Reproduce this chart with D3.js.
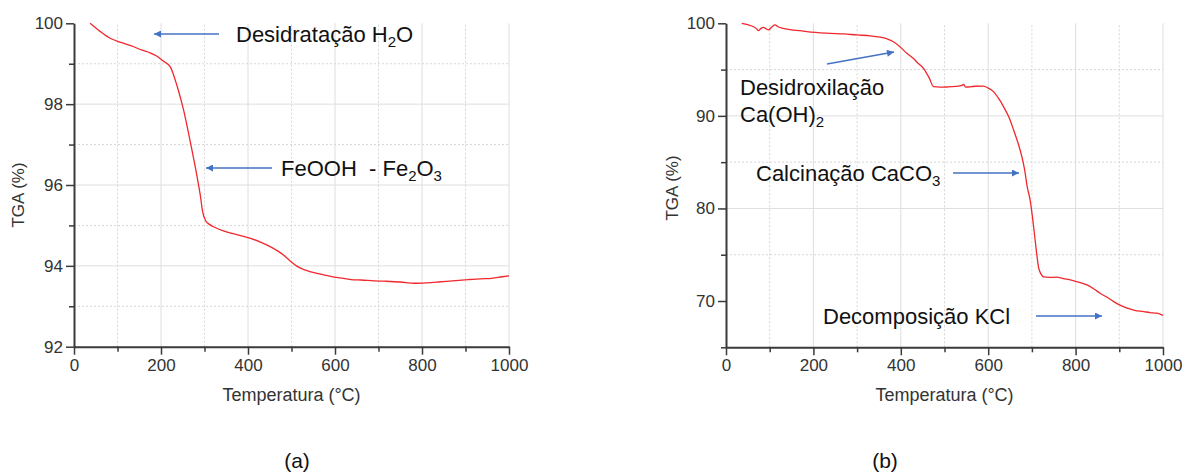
<!DOCTYPE html>
<html>
<head>
<meta charset="utf-8">
<script src="https://cdn.jsdelivr.net/npm/d3@7"></script>
<style>
  body { margin: 0; background: #fff; }
  text { font-family: "Liberation Sans", Arial, sans-serif; }
</style>
</head>
<body>
<script>
const width = 1185;
const height = 473;

// ---- data ----
const xMajor = [0, 200, 400, 600, 800, 1000];
const xMinor = [100, 300, 500, 700, 900];

// (a) FeOOH sample
const tempA = [37, 60, 83, 110, 137, 155, 175, 190, 206, 221, 237, 252, 268, 283, 291, 295, 302, 312, 322, 345, 368, 390, 406, 430, 452, 468, 485, 499, 514, 530, 545, 570, 598, 620, 637, 660, 690, 714, 750, 783, 810, 837, 870, 906, 935, 960, 985, 1000];
const tgaA = [100, 99.8, 99.63, 99.52, 99.42, 99.34, 99.27, 99.19, 99.06, 98.93, 98.45, 97.85, 97.03, 96.2, 95.7, 95.38, 95.13, 95.02, 94.96, 94.86, 94.79, 94.73, 94.68, 94.58, 94.47, 94.37, 94.24, 94.1, 93.98, 93.9, 93.85, 93.79, 93.72, 93.69, 93.66, 93.65, 93.63, 93.62, 93.6, 93.57, 93.58, 93.6, 93.63, 93.66, 93.68, 93.69, 93.73, 93.75];
const yMajorA = [92, 94, 96, 98, 100];
const yMinorA = [93, 95, 97, 99];

// (b) Ca(OH)2 / CaCO3 sample
const tempB = [36, 50, 63, 70, 74, 80, 86, 92, 97, 105, 112, 120, 131, 150, 170, 185, 210, 238, 270, 299, 330, 353, 370, 383, 398, 414, 429, 437, 452, 465, 475, 490, 505, 525, 540, 544, 548, 552, 570, 589, 600, 612, 625, 635, 647, 658, 668, 677, 684, 689, 696, 704, 710, 715, 721, 727, 740, 757, 770, 788, 806, 826, 842, 856, 872, 887, 902, 918, 935, 956, 970, 986, 1000];
const tgaB = [100, 99.85, 99.63, 99.4, 99.2, 99.45, 99.57, 99.4, 99.28, 99.6, 99.82, 99.6, 99.46, 99.3, 99.2, 99.1, 99.0, 98.92, 98.85, 98.74, 98.65, 98.5, 98.3, 98.0, 97.47, 96.76, 96.2, 95.8, 95.14, 94.1, 93.15, 93.1, 93.12, 93.18, 93.3, 93.4, 93.1, 93.12, 93.2, 93.22, 93.0, 92.62, 91.8, 91.0, 89.9, 88.5, 87.1, 85.6, 84.0, 82.4, 80.9, 78.0, 75.5, 73.7, 72.9, 72.6, 72.55, 72.57, 72.45, 72.28, 72.05, 71.74, 71.3, 70.84, 70.4, 69.94, 69.55, 69.22, 69.0, 68.86, 68.75, 68.68, 68.45];
const yMajorB = [70, 80, 90, 100];
const yMinorB = [65, 75, 85, 95];

const svg = d3.select("body").append("svg")
  .attr("width", width)
  .attr("height", height);

// arrowhead used by all annotation arrows
svg.append("defs").append("marker")
  .attr("id", "arr")
  .attr("viewBox", "0 0 10 10")
  .attr("refX", 10).attr("refY", 5)
  .attr("markerWidth", 9).attr("markerHeight", 7)
  .attr("markerUnits", "userSpaceOnUse")
  .attr("orient", "auto")
  .append("path").attr("d", "M0,0L10,5L0,10z").attr("fill", "#4472c4");

const drawPanel = (sel, cfg) => {
  const x = d3.scaleLinear().domain([0, 1000]).range(cfg.xr);
  const y = d3.scaleLinear().domain(cfg.yd).range(cfg.yr);
  const g = sel.append("g");

  // grid
  g.selectAll("line.vgrid")
    .data(xMajor.slice(1).concat(xMinor))
    .join("line")
    .attr("x1", d => x(d)).attr("x2", d => x(d))
    .attr("y1", cfg.yr[0]).attr("y2", cfg.yr[1])
    .attr("stroke", d => xMajor.includes(d) ? "#dedede" : "#d6d6d6")
    .attr("stroke-dasharray", d => xMajor.includes(d) ? null : "2,2")
    .attr("stroke-width", 1);
  g.selectAll("line.hgrid")
    .data(cfg.yMajor.slice(1, -1).concat(cfg.yMinor).filter(d => d > cfg.yd[0]))
    .join("line")
    .attr("x1", cfg.xr[0]).attr("x2", cfg.xr[1])
    .attr("y1", d => y(d)).attr("y2", d => y(d))
    .attr("stroke", d => cfg.yMajor.includes(d) ? "#dedede" : "#d6d6d6")
    .attr("stroke-dasharray", d => cfg.yMajor.includes(d) ? null : "2,2")
    .attr("stroke-width", 1);

  // curve
  const line = d3.line()
    .x(d => x(d[0]))
    .y(d => y(d[1]))
    .curve(d3.curveMonotoneX);
  g.append("path")
    .datum(d3.zip(cfg.temp, cfg.tga))
    .attr("d", line)
    .attr("fill", "none")
    .attr("stroke", "#f0282d")
    .attr("stroke-width", 1.3);

  // axes
  const styleAxis = (a) => {
    a.select(".domain").attr("stroke", "#3a3a3a").attr("stroke-width", 2);
    a.selectAll(".tick line").attr("stroke", "#3a3a3a").attr("stroke-width", 1.5);
    a.selectAll("text").attr("font-size", 17).attr("fill", "#333")
      .style("font-family", "'Liberation Sans', Arial, sans-serif");
  };
  g.append("g").attr("transform", `translate(0,${cfg.yr[0]})`)
    .call(d3.axisBottom(x).tickValues(xMinor).tickSize(5).tickFormat(""))
    .call(a => a.select(".domain").remove())
    .call(styleAxis);
  g.append("g").attr("transform", `translate(${cfg.xr[0]},0)`)
    .call(d3.axisLeft(y).tickValues(cfg.yMinor).tickSize(5).tickFormat(""))
    .call(a => a.select(".domain").remove())
    .call(styleAxis);
  g.append("g").attr("transform", `translate(0,${cfg.yr[0]})`)
    .call(d3.axisBottom(x).tickValues(xMajor).tickFormat(d3.format("d"))
      .tickSize(8).tickSizeOuter(0).tickPadding(4))
    .call(styleAxis);
  g.append("g").attr("transform", `translate(${cfg.xr[0]},0)`)
    .call(d3.axisLeft(y).tickValues(cfg.yMajor).tickFormat(d3.format("d"))
      .tickSize(8).tickSizeOuter(0).tickPadding(3))
    .call(styleAxis);

  // axis titles
  g.append("text")
    .attr("x", (cfg.xr[0] + cfg.xr[1]) / 2).attr("y", 401)
    .attr("text-anchor", "middle").attr("font-size", 18).attr("fill", "#333")
    .text("Temperatura (°C)");
  g.append("text")
    .attr("transform", `translate(${cfg.ytx},${cfg.yty}) rotate(-90)`)
    .attr("text-anchor", "middle").attr("font-size", 17).attr("fill", "#333")
    .text("TGA (%)");

  // panel letter
  g.append("text")
    .attr("x", cfg.letterX).attr("y", 468)
    .attr("text-anchor", "middle").attr("font-size", 21).attr("fill", "#111")
    .text(cfg.letter);
};

// annotation: text with optional subscript parts [[str, isSub, afterSub], ...]
const label = (sel, x, y, parts) => {
  const t = sel.append("text").attr("x", x).attr("y", y)
    .attr("font-size", 22).attr("fill", "#111");
  parts.forEach(p => {
    const s = t.append("tspan").text(p[0]);
    if (p[1]) s.attr("font-size", 15).attr("dy", 5);
    else if (p[2]) s.attr("dy", -5);
  });
};
const arrow = (sel, x1, y1, x2, y2) => {
  sel.append("line")
    .attr("x1", x1).attr("y1", y1).attr("x2", x2).attr("y2", y2)
    .attr("stroke", "#4472c4").attr("stroke-width", 1.3)
    .attr("marker-end", "url(#arr)");
};

svg.call(drawPanel, {
  xr: [74, 509], yr: [346.7, 23.3], yd: [92, 100],
  temp: tempA, tga: tgaA, yMajor: yMajorA, yMinor: yMinorA,
  ytx: 24, yty: 195, letter: "(a)", letterX: 297
});
svg.call(drawPanel, {
  xr: [726, 1163], yr: [347.3, 23.3], yd: [65, 100],
  temp: tempB, tga: tgaB, yMajor: yMajorB, yMinor: yMinorB,
  ytx: 678, yty: 188, letter: "(b)", letterX: 885
});

// annotations (a)
label(svg, 236, 42, [["Desidratação H"], ["2", true], ["O", false, true]]);
arrow(svg, 219, 34, 154, 34);
label(svg, 281, 176, [["FeOOH\u00a0 - Fe"], ["2", true], ["O", false, true], ["3", true]]);
arrow(svg, 272, 168, 206, 168);

// annotations (b)
label(svg, 740, 95, [["Desidroxilação"]]);
label(svg, 740, 122, [["Ca(OH)"], ["2", true]]);
arrow(svg, 827, 64, 894, 52);
label(svg, 756, 181, [["Calcinação CaCO"], ["3", true]]);
arrow(svg, 953, 173, 1019, 173);
label(svg, 823, 324, [["Decomposição KCl"]]);
arrow(svg, 1036, 316, 1102, 316);
</script>
</body>
</html>
